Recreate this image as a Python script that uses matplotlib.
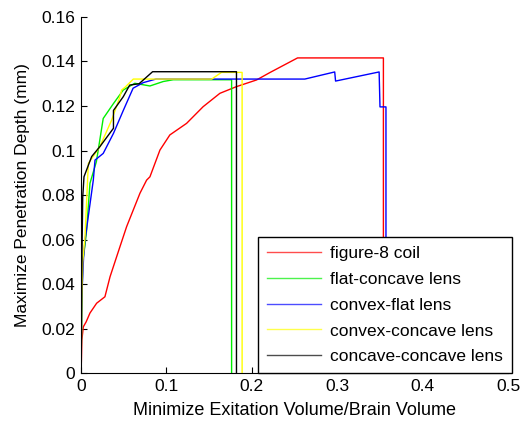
import numpy as np
import matplotlib
matplotlib.use("Agg")
import matplotlib.pyplot as plt

plt.rcParams['font.family'] = ['Liberation Sans', 'DejaVu Sans']

# figure-8 coil
coil_x = [0, 0.0005, 0.001, 0.0027, 0.006, 0.0105, 0.0183, 0.028, 0.034, 0.0456, 0.0534,
          0.069, 0.0768, 0.0807, 0.0924, 0.104, 0.1236, 0.143, 0.1626, 0.182, 0.2055,
          0.221, 0.2535, 0.354, 0.354]
coil_y = [0, 0.006, 0.0148, 0.0208, 0.023, 0.027, 0.0314, 0.0343, 0.0433, 0.0568, 0.0658,
          0.0808, 0.0867, 0.0882, 0.1002, 0.107, 0.1122, 0.1197, 0.1257, 0.1287, 0.1317,
          0.135, 0.1416, 0.1416, 0]

# flat-concave lens
flat_cc_x = [0, 0.001, 0.002, 0.0045, 0.0066, 0.0105, 0.018, 0.026, 0.038, 0.0495, 0.063,
             0.0807, 0.0963, 0.108, 0.1763, 0.1763]
flat_cc_y = [0, 0.03, 0.05, 0.057, 0.0643, 0.0853, 0.095, 0.1144, 0.1211, 0.1272, 0.1302,
             0.129, 0.131, 0.1318, 0.1318, 0]

# convex-flat lens
cvx_flat_x = [0, 0.001, 0.003, 0.0047, 0.0085, 0.0144, 0.0164, 0.026, 0.038, 0.0495, 0.061,
              0.0729, 0.0877, 0.262, 0.297, 0.298, 0.349, 0.350, 0.357, 0.357]
cvx_flat_y = [0, 0.035, 0.052, 0.0598, 0.0703, 0.0867, 0.0957, 0.0987, 0.1077, 0.118, 0.128,
              0.1305, 0.1321, 0.1321, 0.1353, 0.1312, 0.1353, 0.1196, 0.1196, 0]

# convex-concave lens
cvx_cc_x = [0, 0.001, 0.002, 0.0047, 0.0086, 0.022, 0.0359, 0.0456, 0.0476, 0.0515, 0.0612,
            0.153, 0.1645, 0.1886, 0.1886]
cvx_cc_y = [0, 0.035, 0.05, 0.0613, 0.0942, 0.1017, 0.1137, 0.1242, 0.1272, 0.1284, 0.1321,
            0.1321, 0.1351, 0.1351, 0]

# concave-concave lens
cc_cc_x = [0, 0.001, 0.002, 0.0035, 0.0125, 0.022, 0.038, 0.038, 0.0495, 0.057, 0.068,
           0.0838, 0.182, 0.182]
cc_cc_y = [0, 0.05, 0.079, 0.0882, 0.0973, 0.1017, 0.11, 0.118, 0.1242, 0.1294, 0.13,
           0.1354, 0.1354, 0]

fig = plt.figure(figsize=(5.26, 4.24), dpi=100)
ax = fig.add_axes([0.154, 0.12, 0.812, 0.84])

ax.plot(coil_x, coil_y, color='#ff0000', lw=1.0, label='figure-8 coil')
ax.plot(flat_cc_x, flat_cc_y, color='#00ee00', lw=1.0, label='flat-concave lens')
ax.plot(cvx_flat_x, cvx_flat_y, color='#0000ff', lw=1.0, label='convex-flat lens')
ax.plot(cvx_cc_x, cvx_cc_y, color='#ffff00', lw=1.0, label='convex-concave lens')
ax.plot(cc_cc_x, cc_cc_y, color='#000000', lw=1.0, label='concave-concave lens')

ax.set_xlim(0, 0.5)
ax.set_ylim(0, 0.16)
ax.set_xticks(np.arange(0, 0.51, 0.1))
ax.set_xticklabels(['0', '0.1', '0.2', '0.3', '0.4', '0.5'])
ax.set_yticks(np.arange(0, 0.161, 0.02))
ax.set_yticklabels(['0', '0.02', '0.04', '0.06', '0.08', '0.1', '0.12', '0.14', '0.16'])
ax.tick_params(direction='in', length=4, labelsize=12.5, width=0.8, pad=4)
ax.spines['top'].set_visible(False)
ax.spines['right'].set_visible(False)

ax.set_xlabel('Minimize Exitation Volume/Brain Volume', fontsize=13, labelpad=6)
ax.set_ylabel('Maximize Penetration Depth (mm)', fontsize=12.5, labelpad=8)

leg = ax.legend(loc='lower right', bbox_to_anchor=(1.009, 0.0), borderaxespad=0,
                fontsize=12.5, fancybox=False, framealpha=1, edgecolor='black',
                handlelength=3.1, borderpad=0.5, labelspacing=0.62, handletextpad=0.55)
leg.get_frame().set_linewidth(1.0)
for line in leg.get_lines():
    line.set_alpha(0.7)

fig.savefig('out.png', dpi=100)
